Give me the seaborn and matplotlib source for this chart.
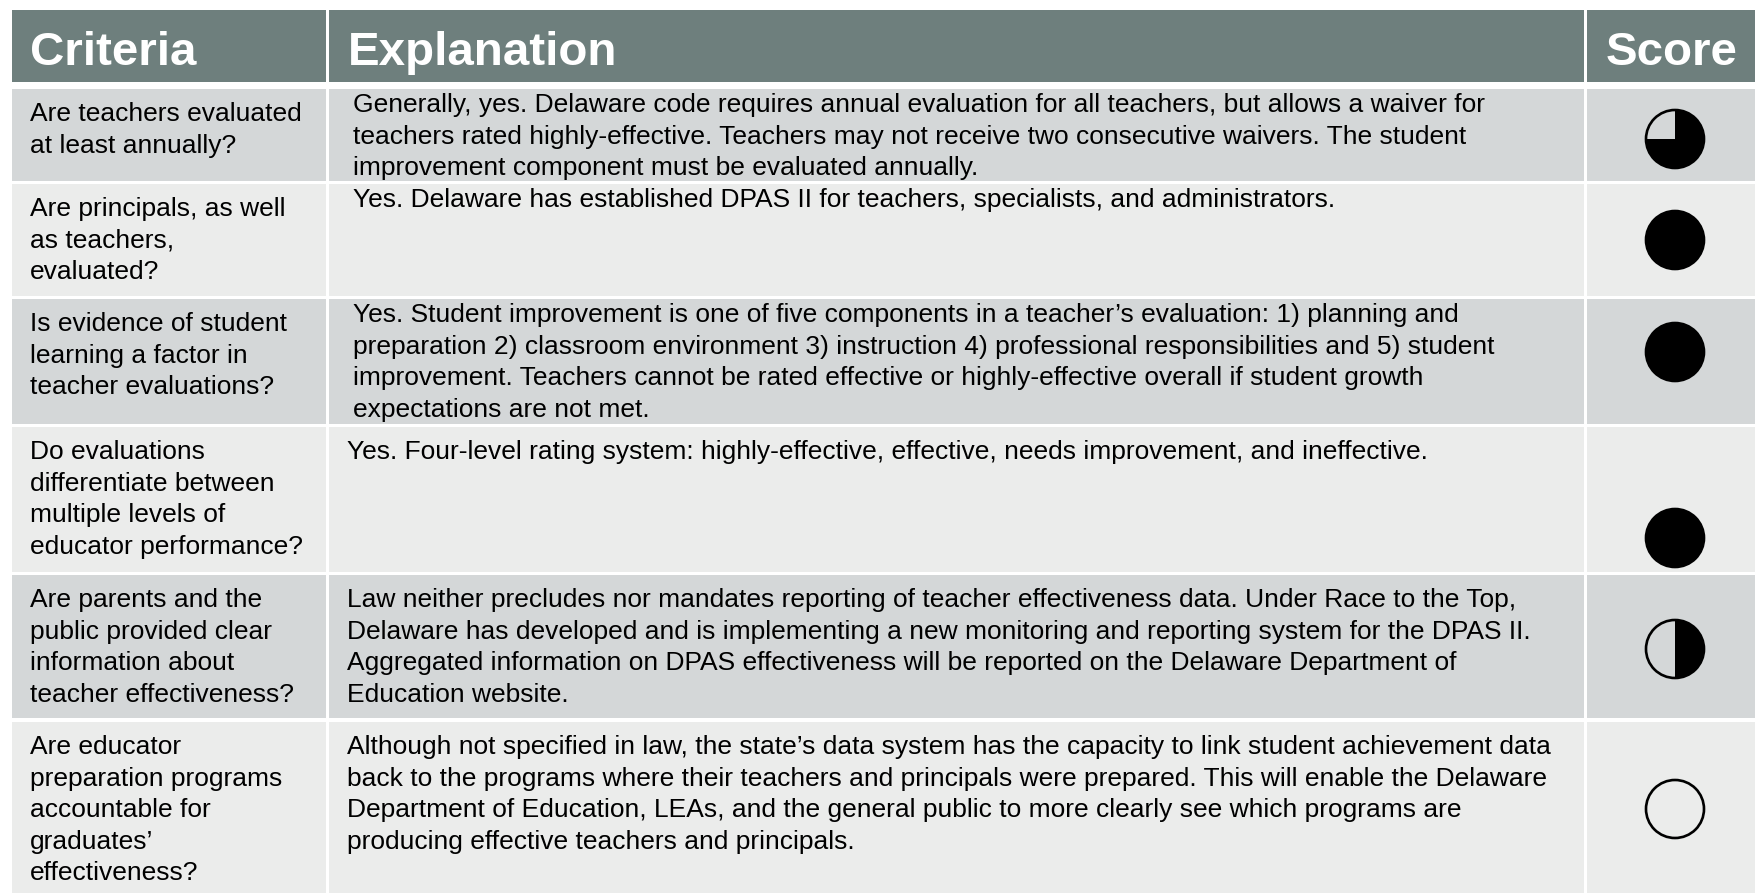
import matplotlib.pyplot as plt
import seaborn as sns
from matplotlib.patches import Rectangle, Wedge, Circle

# table content
headers = ["Criteria", "Explanation", "Score"]

criteria = [
    "Are teachers evaluated\nat least annually?",
    "Are principals, as well\nas teachers,\nevaluated?",
    "Is evidence of student\nlearning a factor in\nteacher evaluations?",
    "Do evaluations\ndifferentiate between\nmultiple levels of\neducator performance?",
    "Are parents and the\npublic provided clear\ninformation about\nteacher effectiveness?",
    "Are educator\npreparation programs\naccountable for\ngraduates’\neffectiveness?",
]

explanations = [
    "Generally, yes. Delaware code requires annual evaluation for all teachers, but allows a waiver for\n"
    "teachers rated highly-effective. Teachers may not receive two consecutive waivers. The student\n"
    "improvement component must be evaluated annually.",
    "Yes. Delaware has established DPAS II for teachers, specialists, and administrators.",
    "Yes. Student improvement is one of five components in a teacher’s evaluation: 1) planning and\n"
    "preparation 2) classroom environment 3) instruction 4) professional responsibilities and 5) student\n"
    "improvement. Teachers cannot be rated effective or highly-effective overall if student growth\n"
    "expectations are not met.",
    "Yes. Four-level rating system: highly-effective, effective, needs improvement, and ineffective.",
    "Law neither precludes nor mandates reporting of teacher effectiveness data. Under Race to the Top,\n"
    "Delaware has developed and is implementing a new monitoring and reporting system for the DPAS II.\n"
    "Aggregated information on DPAS effectiveness will be reported on the Delaware Department of\n"
    "Education website.",
    "Although not specified in law, the state’s data system has the capacity to link student achievement data\n"
    "back to the programs where their teachers and principals were prepared. This will enable the Delaware\n"
    "Department of Education, LEAs, and the general public to more clearly see which programs are\n"
    "producing effective teachers and principals.",
]

# fraction of the circle filled (Harvey ball)
scores = [0.75, 1, 1, 1, 0.5, 0]

sns.set_theme(style="white")
plt.rcParams['font.family'] = ['Liberation Sans', 'DejaVu Sans']

W, H = 1756, 893
fig = plt.figure(figsize=(W / 100, H / 100), dpi=100)
ax = fig.add_axes([0, 0, 1, 1])
ax.set_xlim(0, W)
ax.set_ylim(H, 0)
ax.axis('off')

# layout (pixels)
col_left = [12, 329, 1587]
col_right = [326, 1584, W]
head_top, head_bot = 10, 82
row_top = [89, 184, 299, 427, 575, 722]
row_bot = [181, 296, 424, 572, 718, 893]
head_col = "#6e7f7d"
row_cols = ["#d4d7d8", "#ebeceb"]
pitch = 31.6
body_fs = 19
ball_x = 1675
ball_y = [139, 240, 352, 538, 649, 809]
ball_r = 29

# header
for j, name in enumerate(headers):
    ax.add_patch(Rectangle((col_left[j], head_top), col_right[j] - col_left[j],
                           head_bot - head_top, fc=head_col, ec='none'))
head_x = [30, 348, 1606]
for j, name in enumerate(headers):
    ax.text(head_x[j], 65, name, color='white', fontsize=34.2, fontweight='bold',
            va='baseline', ha='left')

# body rows
for i in range(len(criteria)):
    fc = row_cols[i % 2]
    for j in range(3):
        ax.add_patch(Rectangle((col_left[j], row_top[i]), col_right[j] - col_left[j],
                               row_bot[i] - row_top[i], fc=fc, ec='none'))
    base_c = row_top[i] + 32
    for k, line in enumerate(criteria[i].split("\n")):
        ax.text(30, base_c + k * pitch, line, fontsize=body_fs, color='black', va='baseline')
    ex_x = 353 if i < 3 else 347
    base_e = row_top[i] + (23 if i < 3 else 32)
    for k, line in enumerate(explanations[i].split("\n")):
        ax.text(ex_x, base_e + k * pitch, line, fontsize=body_fs, color='black', va='baseline')

    # score ball: filled clockwise from 12 o'clock (y axis is inverted)
    s = scores[i]
    if s > 0:
        ax.add_patch(Wedge((ball_x, ball_y[i]), ball_r, -90, -90 + 360 * s,
                           fc='black', ec='none'))
    ax.add_patch(Circle((ball_x, ball_y[i]), ball_r, fc='none', ec='black', lw=1.9))

fig.savefig("out.png", dpi=100)
